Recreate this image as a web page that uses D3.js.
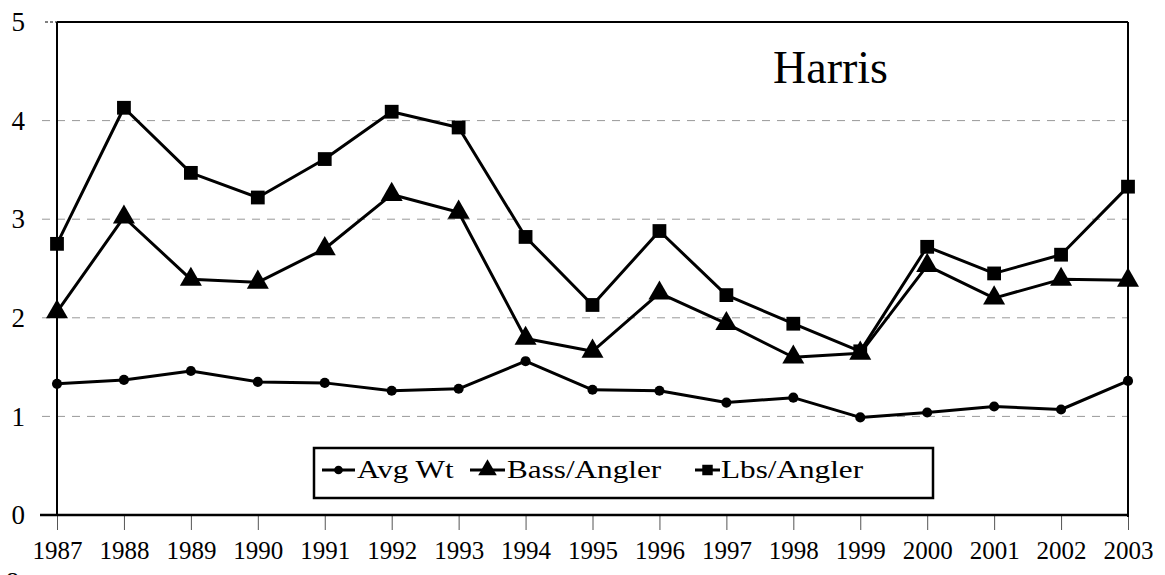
<!DOCTYPE html>
<meta charset="utf-8">
<script src="https://d3js.org/d3.v7.min.js"></script>
<style>
  body { margin: 0; background: #fff; }
  text { font-family: "Liberation Serif", "Times New Roman", serif; fill: #000; }
</style>
<svg id="chart"></svg>
<script>
// data
var years = [1987, 1988, 1989, 1990, 1991, 1992, 1993, 1994, 1995, 1996, 1997, 1998, 1999, 2000, 2001, 2002, 2003];
var avgWt = [1.33, 1.37, 1.46, 1.35, 1.34, 1.26, 1.28, 1.56, 1.27, 1.26, 1.14, 1.19, 0.99, 1.04, 1.10, 1.07, 1.36];
var bassPerAngler = [2.06, 3.02, 2.39, 2.36, 2.70, 3.25, 3.07, 1.79, 1.66, 2.25, 1.94, 1.60, 1.64, 2.53, 2.20, 2.39, 2.38];
var lbsPerAngler = [2.75, 4.13, 3.47, 3.22, 3.61, 4.09, 3.93, 2.82, 2.13, 2.88, 2.23, 1.94, 1.66, 2.72, 2.45, 2.64, 3.33];
var yTicks = [0, 1, 2, 3, 4, 5];
var seriesNames = ["Avg Wt", "Bass/Angler", "Lbs/Angler"];
var title = "Harris";

var width = 1165, height = 575;
var svg = d3.select("#chart").attr("width", width).attr("height", height);

var x = d3.scaleLinear().domain([1987, 2003]).range([57, 1128]);
var y = d3.scaleLinear().domain([0, 5]).range([515, 22]);

// dashed grid lines
svg.append("g")
  .selectAll("line")
  .data(yTicks.slice(1, 5))
  .enter()
  .append("line")
  .attr("x1", 42).attr("x2", x.range()[1])
  .attr("y1", d => y(d)).attr("y2", d => y(d))
  .attr("stroke", "#999")
  .attr("stroke-width", 1)
  .attr("stroke-dasharray", "8,7");

// x axis
var xAxis = svg.append("g")
  .attr("transform", "translate(0," + y(0) + ")")
  .call(d3.axisBottom(x).tickValues(years).tickFormat(d3.format("d")).tickSize(15).tickSizeOuter(0).tickPadding(11));
xAxis.select(".domain").remove();
xAxis.selectAll(".tick line").attr("stroke", "#555").attr("stroke-width", 1);
xAxis.selectAll("text").style("font-size", "25px").style("font-family", "Liberation Serif");

// y axis labels
var yAxis = svg.append("g")
  .attr("transform", "translate(" + x.range()[0] + ",0)")
  .call(d3.axisLeft(y).tickValues(yTicks).tickFormat(d3.format("d")).tickSize(0).tickPadding(32));
yAxis.select(".domain").remove();
yAxis.selectAll("text").style("font-size", "27px").style("font-family", "Liberation Serif");

// frame
var frame = svg.append("g").attr("stroke", "#000").attr("fill", "none");
frame.append("line").attr("x1", 40).attr("x2", x.range()[1]).attr("y1", y(0)).attr("y2", y(0)).attr("stroke-width", 2.5);
frame.append("line").attr("x1", 45).attr("x2", x.range()[0]).attr("y1", y(5)).attr("y2", y(5)).attr("stroke-width", 1).attr("stroke-dasharray", "3,2");
frame.append("line").attr("x1", x.range()[0]).attr("x2", x.range()[1]).attr("y1", y(5)).attr("y2", y(5)).attr("stroke-width", 2);
frame.append("line").attr("x1", x.range()[0]).attr("x2", x.range()[0]).attr("y1", y(5)).attr("y2", y(0)).attr("stroke-width", 2);
frame.append("line").attr("x1", x.range()[1]).attr("x2", x.range()[1]).attr("y1", y(5)).attr("y2", y(0) + 2).attr("stroke-width", 2);

// series
var series = [
  { values: avgWt, symbol: d3.symbolCircle, size: 80 },
  { values: bassPerAngler, symbol: d3.symbolTriangle, size: 210 },
  { values: lbsPerAngler, symbol: d3.symbolSquare, size: 190 }
];

var line = d3.line()
  .x((d, i) => x(years[i]))
  .y(d => y(d));

series.forEach(function (s) {
  svg.append("path")
    .datum(s.values)
    .attr("d", line)
    .attr("fill", "none")
    .attr("stroke", "#000")
    .attr("stroke-width", 3)
    .attr("stroke-linejoin", "round");

  svg.append("g")
    .selectAll("path")
    .data(s.values)
    .enter()
    .append("path")
    .attr("d", d3.symbol().type(s.symbol).size(s.size))
    .attr("transform", (d, i) => "translate(" + x(years[i]) + "," + y(d) + ")")
    .attr("fill", "#000");
});

// title
svg.append("text")
  .attr("x", 773).attr("y", 83)
  .style("font-size", "46px")
  .text(title);

// legend
var legend = svg.append("g");
legend.append("rect")
  .attr("x", 314).attr("y", 448)
  .attr("width", 619).attr("height", 50)
  .attr("fill", "#fff")
  .attr("stroke", "#000")
  .attr("stroke-width", 2.5);

var legendItems = [
  { x1: 322, x2: 355, text: 357, symbol: d3.symbolCircle, size: 60 },
  { x1: 470, x2: 505, text: 507, symbol: d3.symbolTriangle, size: 150 },
  { x1: 695, x2: 720, text: 721, symbol: d3.symbolSquare, size: 110 }
];

legendItems.forEach(function (it, i) {
  legend.append("line")
    .attr("x1", it.x1).attr("x2", it.x2)
    .attr("y1", 470).attr("y2", 470)
    .attr("stroke", "#000").attr("stroke-width", 3);
  legend.append("path")
    .attr("d", d3.symbol().type(it.symbol).size(it.size))
    .attr("transform", "translate(" + (it.x1 + it.x2) / 2 + ",470)")
    .attr("fill", "#000");
  legend.append("text")
    .attr("transform", "translate(" + it.text + ",478) scale(1.2,1)")
    .style("font-size", "26px")
    .text(seriesNames[i]);
});

// page number cut off at bottom of scan
svg.append("text")
  .attr("x", 6).attr("y", 590)
  .style("font-size", "26px")
  .text("8");
</script>
